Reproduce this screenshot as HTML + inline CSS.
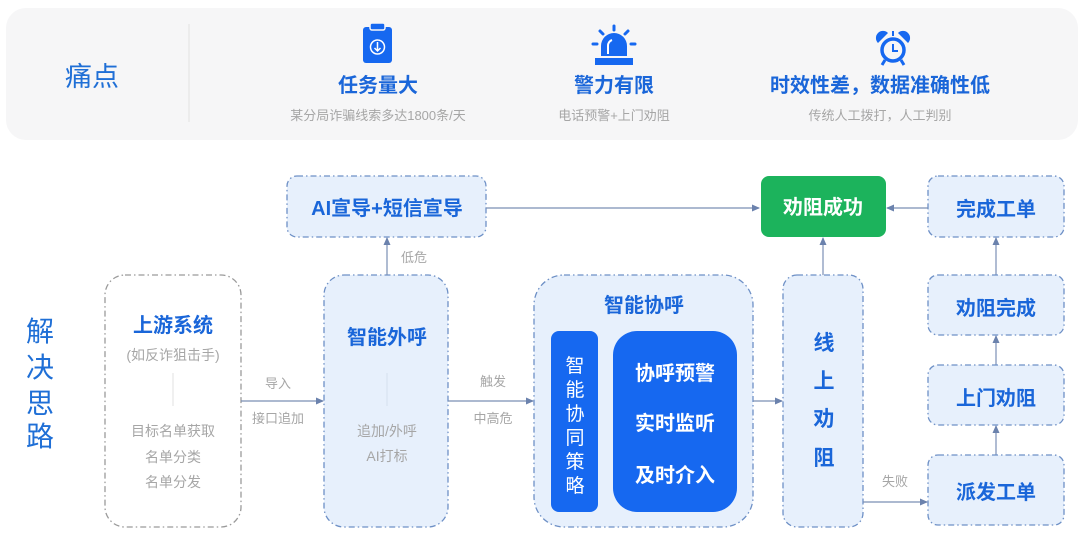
<!DOCTYPE html>
<html><head><meta charset="utf-8"><style>
html,body{margin:0;padding:0;background:#fff;}
svg{display:block;}
text{font-family:"Liberation Sans","Noto Sans CJK SC",sans-serif;}
.t{fill:#1a66d9;font-weight:bold;text-anchor:middle;}
.g{fill:#a6a6a6;text-anchor:middle;font-size:13px;}
.w{fill:#fff;font-weight:bold;text-anchor:middle;}
.bx{fill:#e7f0fc;stroke:#6e90c6;stroke-width:1.3;stroke-dasharray:6 3 1.5 3;}
.ln{stroke:#7a8fb5;stroke-width:1.2;fill:none;}
</style></head><body>
<svg width="1080" height="542" viewBox="0 0 1080 542">
<defs><marker id="a" markerWidth="8" markerHeight="8" refX="7" refY="4" orient="auto" markerUnits="userSpaceOnUse"><path d="M0,0.5 L8,4 L0,7.5 z" fill="#6b82ad"/></marker></defs>
<!-- top panel -->
<rect x="6" y="8" width="1072" height="132" rx="20" fill="#f6f6f7"/>
<line x1="189" y1="24" x2="189" y2="122" stroke="#e2e2e2"/>
<text x="92" y="86" font-size="27" fill="#1f6fd6" text-anchor="middle">痛点</text>
<!-- clipboard -->
<rect x="363" y="27" width="29" height="36" rx="3" fill="#1668f0"/>
<rect x="370" y="23" width="15" height="7" rx="2" fill="#1668f0" stroke="#f6f6f7" stroke-width="1.5"/>
<circle cx="377.5" cy="47" r="7" fill="none" stroke="#fff" stroke-width="1.5"/>
<path d="M377.5,42 V51 M374.5,48 L377.5,51 L380.5,48" stroke="#fff" stroke-width="1.5" fill="none"/>
<text x="378" y="92" font-size="20" class="t">任务量大</text>
<text x="378" y="120" class="g">某分局诈骗线索多达1800条/天</text>
<!-- siren -->
<rect x="595" y="58" width="38" height="7" fill="#1668f0"/>
<path d="M601,56 V46 A13,13 0 0 1 627,46 V56 Z" fill="#1668f0"/>
<path d="M608,54 V46 A6,6 0 0 1 612,40" stroke="#fff" stroke-width="2" fill="none"/>
<g stroke="#1668f0" stroke-width="3" stroke-linecap="round"><line x1="614" y1="26" x2="614" y2="30"/><line x1="600" y1="31" x2="603" y2="34"/><line x1="628" y1="31" x2="625" y2="34"/><line x1="593" y1="44" x2="597" y2="44"/><line x1="631" y1="44" x2="635" y2="44"/></g>
<text x="614" y="92" font-size="20" class="t">警力有限</text>
<text x="614" y="120" class="g">电话预警+上门劝阻</text>
<!-- clock -->
<circle cx="893" cy="50" r="11" fill="none" stroke="#1668f0" stroke-width="3.5"/>
<path d="M893,44 V51 H898" stroke="#1668f0" stroke-width="2" fill="none"/>
<path d="M878,43 A7,7 0 0 1 888,33 Z M908,43 A7,7 0 0 0 898,33 Z" fill="#1668f0"/>
<line x1="893" y1="36" x2="893" y2="31" stroke="#1668f0" stroke-width="2"/>
<line x1="885" y1="60" x2="882" y2="65" stroke="#1668f0" stroke-width="3"/><line x1="901" y1="60" x2="904" y2="65" stroke="#1668f0" stroke-width="3"/>
<text x="880" y="92" font-size="20" class="t">时效性差，数据准确性低</text>
<text x="880" y="120" class="g">传统人工拨打，人工判别</text>
<!-- 解决思路 -->
<g font-size="28" fill="#1f6fd6" text-anchor="middle"><text x="40" y="341">解</text><text x="40" y="377">决</text><text x="40" y="413">思</text><text x="40" y="446">路</text></g>
<!-- upstream -->
<rect x="105" y="275" width="136" height="252" rx="20" fill="#fff" stroke="#9a9a9a" stroke-width="1.3" stroke-dasharray="6 3 1.5 3"/>
<text x="173" y="332" font-size="20" class="t">上游系统</text>
<text x="173" y="360" font-size="14" class="g" style="font-size:14px">(如反诈狙击手)</text>
<line x1="173" y1="373" x2="173" y2="406" stroke="#e0e0e0"/>
<text x="173" y="436" class="g" style="font-size:14px">目标名单获取</text>
<text x="173" y="462" class="g" style="font-size:14px">名单分类</text>
<text x="173" y="487" class="g" style="font-size:14px">名单分发</text>
<!-- 智能外呼 -->
<rect x="324" y="275" width="124" height="252" rx="20" class="bx"/>
<text x="387" y="344" font-size="20" class="t">智能外呼</text>
<line x1="387" y1="373" x2="387" y2="406" stroke="#d5e0ee"/>
<text x="387" y="436" class="g" style="font-size:14px">追加/外呼</text>
<text x="387" y="461" class="g" style="font-size:14px">AI打标</text>
<line x1="241" y1="401" x2="323" y2="401" class="ln" marker-end="url(#a)"/>
<text x="278" y="388" class="g">导入</text><text x="278" y="423" class="g">接口追加</text>
<line x1="448" y1="401" x2="533" y2="401" class="ln" marker-end="url(#a)"/>
<text x="493" y="386" class="g">触发</text><text x="493" y="423" class="g">中高危</text>
<!-- 智能协呼 -->
<rect x="534" y="275" width="219" height="252" rx="30" class="bx"/>
<text x="644" y="312" font-size="20" class="t">智能协呼</text>
<rect x="551" y="331" width="47" height="181" rx="8" fill="#1668f0"/>
<g font-size="19" fill="#fff" text-anchor="middle"><text x="575" y="372">智</text><text x="575" y="396">能</text><text x="575" y="420">协</text><text x="575" y="444">同</text><text x="575" y="468">策</text><text x="575" y="492">略</text></g>
<rect x="613" y="331" width="124" height="181" rx="24" fill="#1668f0"/>
<text x="675" y="380" font-size="20" class="w">协呼预警</text>
<text x="675" y="430" font-size="20" class="w">实时监听</text>
<text x="675" y="482" font-size="20" class="w">及时介入</text>
<line x1="753" y1="401" x2="782" y2="401" class="ln" marker-end="url(#a)"/>
<!-- 线上劝阻 -->
<rect x="783" y="275" width="80" height="252" rx="14" class="bx"/>
<g font-size="21" fill="#1a66d9" font-weight="bold" text-anchor="middle"><text x="824" y="350">线</text><text x="824" y="388">上</text><text x="824" y="426">劝</text><text x="824" y="465">阻</text></g>
<line x1="863" y1="502" x2="927" y2="502" class="ln" marker-end="url(#a)"/>
<text x="895" y="486" class="g">失败</text>
<!-- top row -->
<rect x="287" y="176" width="199" height="61" rx="10" class="bx"/>
<text x="387" y="215" font-size="20" class="t">AI宣导+短信宣导</text>
<line x1="387" y1="275" x2="387" y2="238" class="ln" marker-end="url(#a)"/>
<text x="414" y="262" class="g">低危</text>
<line x1="486" y1="208" x2="759" y2="208" class="ln" marker-end="url(#a)"/>
<rect x="761" y="176" width="125" height="61" rx="8" fill="#1cb35c"/>
<text x="823" y="214" font-size="20" class="w">劝阻成功</text>
<line x1="823" y1="275" x2="823" y2="238" class="ln" marker-end="url(#a)"/>
<rect x="928" y="176" width="136" height="61" rx="10" class="bx"/>
<text x="996" y="216" font-size="20" class="t">完成工单</text>
<line x1="928" y1="208" x2="887" y2="208" class="ln" marker-end="url(#a)"/>
<line x1="996" y1="275" x2="996" y2="238" class="ln" marker-end="url(#a)"/>
<rect x="928" y="275" width="136" height="60" rx="10" class="bx"/>
<text x="996" y="315" font-size="20" class="t">劝阻完成</text>
<line x1="996" y1="365" x2="996" y2="336" class="ln" marker-end="url(#a)"/>
<rect x="928" y="365" width="136" height="60" rx="10" class="bx"/>
<text x="996" y="405" font-size="20" class="t">上门劝阻</text>
<line x1="996" y1="455" x2="996" y2="426" class="ln" marker-end="url(#a)"/>
<rect x="928" y="455" width="136" height="70" rx="10" class="bx"/>
<text x="996" y="499" font-size="20" class="t">派发工单</text>
</svg>
</body></html>
